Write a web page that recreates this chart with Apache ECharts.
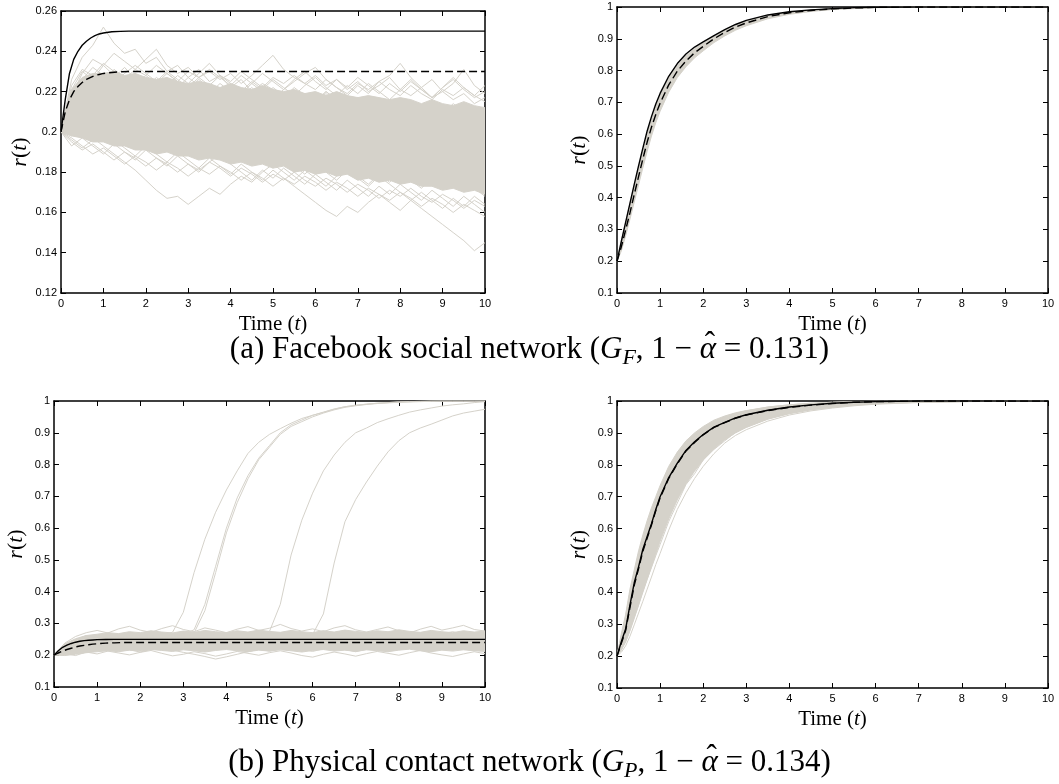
<!DOCTYPE html>
<html>
<head>
<meta charset="utf-8">
<script src="https://cdn.jsdelivr.net/npm/echarts@6/dist/echarts.min.js"></script>
<style>
  html, body { margin: 0; padding: 0; background: #fff; }
  #chart { width: 1059px; height: 784px; }
</style>
</head>
<body>
<div id="chart"></div>
<script>
// ---- time grids ----
const T = [0,0.25,0.5,0.75,1,1.25,1.5,1.75,2,2.25,2.5,2.75,3,3.25,3.5,3.75,4,4.25,4.5,4.75,5,5.25,5.5,5.75,6,6.25,6.5,6.75,7,7.25,7.5,7.75,8,8.25,8.5,8.75,9,9.25,9.5,9.75,10];
const TB = [0,0.1,0.2,0.3,0.4,0.5,0.6,0.7,0.8,0.9,1.0,1.2,1.4,1.6,1.8,2.0,2.25,2.5,2.75,3.0,3.5,4.0,4.5,5.0,5.5,6.0,7.0,8.0,9.0,10.0];

const xTicks = [0,1,2,3,4,5,6,7,8,9,10];

// ---- (a) Facebook, left panel ----
const fbLowSolid  = [0.200,0.216,0.229,0.236,0.240,0.243,0.245,0.2466,0.2478,0.2486,0.2491,0.2497,0.2499,0.250,0.250,0.250,0.250,0.250,0.250,0.250,0.250,0.250,0.250,0.250,0.250,0.250,0.250,0.250,0.250,0.250];
const fbLowDashed = [0.200,0.210,0.216,0.220,0.2225,0.2245,0.226,0.227,0.228,0.2285,0.229,0.2295,0.2298,0.230,0.230,0.230,0.230,0.230,0.230,0.230,0.230,0.230,0.230,0.230,0.230,0.230,0.230,0.230,0.230,0.230];
const fbLowCoreHi = [0.200,0.221,0.227,0.229,0.229,0.230,0.228,0.229,0.227,0.226,0.227,0.225,0.224,0.225,0.224,0.222,0.224,0.222,0.221,0.223,0.221,0.220,0.221,0.219,0.220,0.218,0.220,0.218,0.217,0.218,0.217,0.216,0.217,0.216,0.214,0.216,0.214,0.213,0.215,0.213,0.212];
const fbLowCoreLo = [0.200,0.198,0.197,0.195,0.195,0.193,0.193,0.191,0.191,0.189,0.190,0.188,0.188,0.186,0.187,0.186,0.184,0.185,0.183,0.184,0.182,0.183,0.180,0.181,0.179,0.180,0.178,0.179,0.176,0.177,0.175,0.176,0.174,0.175,0.173,0.173,0.171,0.172,0.170,0.171,0.169];
const fbLowRuns = [
  [0.200,0.226,0.237,0.243,0.252,0.244,0.239,0.241,0.234,0.237,0.230,0.233,0.227,0.231,0.225,0.228,0.222,0.226,0.220,0.224,0.221,0.217,0.222,0.218,0.215,0.220,0.216,0.213,0.217,0.212,0.214,0.210,0.213,0.208,0.211,0.206,0.209,0.205,0.207,0.203,0.206],
  [0.200,0.218,0.229,0.236,0.233,0.239,0.235,0.231,0.236,0.241,0.233,0.229,0.232,0.227,0.230,0.226,0.229,0.224,0.228,0.233,0.238,0.231,0.227,0.224,0.228,0.223,0.226,0.221,0.225,0.220,0.223,0.227,0.221,0.218,0.222,0.217,0.220,0.216,0.219,0.214,0.217],
  [0.200,0.214,0.222,0.228,0.225,0.231,0.227,0.223,0.228,0.224,0.229,0.225,0.221,0.226,0.222,0.218,0.223,0.219,0.224,0.220,0.216,0.221,0.225,0.229,0.232,0.226,0.222,0.218,0.223,0.219,0.225,0.228,0.234,0.227,0.222,0.226,0.220,0.224,0.231,0.223,0.219],
  [0.200,0.221,0.230,0.226,0.233,0.228,0.224,0.229,0.225,0.221,0.226,0.222,0.227,0.223,0.219,0.224,0.220,0.216,0.221,0.217,0.222,0.218,0.214,0.219,0.215,0.220,0.216,0.212,0.217,0.213,0.209,0.214,0.210,0.215,0.211,0.207,0.212,0.208,0.204,0.209,0.205],
  [0.200,0.212,0.219,0.225,0.221,0.227,0.232,0.226,0.222,0.227,0.223,0.228,0.224,0.229,0.234,0.228,0.224,0.220,0.225,0.221,0.226,0.222,0.218,0.223,0.227,0.222,0.218,0.223,0.219,0.224,0.220,0.216,0.221,0.226,0.221,0.217,0.222,0.227,0.222,0.218,0.223],
  [0.200,0.208,0.215,0.211,0.218,0.214,0.210,0.216,0.212,0.208,0.213,0.209,0.214,0.210,0.206,0.211,0.207,0.212,0.208,0.204,0.209,0.205,0.210,0.206,0.202,0.207,0.203,0.208,0.204,0.200,0.205,0.201,0.197,0.202,0.198,0.203,0.199,0.195,0.200,0.196,0.192],
  [0.200,0.205,0.211,0.217,0.213,0.219,0.215,0.220,0.216,0.212,0.217,0.213,0.209,0.214,0.218,0.213,0.209,0.205,0.210,0.206,0.211,0.215,0.210,0.206,0.202,0.207,0.211,0.206,0.202,0.198,0.203,0.199,0.204,0.200,0.196,0.201,0.197,0.193,0.198,0.194,0.190],
  [0.200,0.203,0.207,0.203,0.209,0.205,0.201,0.206,0.202,0.198,0.203,0.199,0.204,0.200,0.196,0.201,0.197,0.202,0.198,0.194,0.199,0.195,0.191,0.196,0.192,0.197,0.193,0.189,0.194,0.190,0.186,0.191,0.187,0.192,0.188,0.184,0.189,0.185,0.181,0.186,0.182],
  [0.200,0.210,0.206,0.212,0.208,0.204,0.209,0.205,0.201,0.206,0.210,0.205,0.201,0.197,0.202,0.206,0.211,0.207,0.203,0.208,0.204,0.200,0.205,0.201,0.197,0.202,0.198,0.194,0.199,0.203,0.199,0.195,0.191,0.196,0.200,0.196,0.192,0.188,0.193,0.189,0.185],
  [0.200,0.216,0.222,0.218,0.214,0.219,0.215,0.211,0.216,0.220,0.215,0.211,0.207,0.212,0.208,0.213,0.209,0.214,0.210,0.215,0.211,0.207,0.203,0.208,0.212,0.207,0.203,0.208,0.204,0.209,0.205,0.210,0.206,0.202,0.207,0.203,0.199,0.204,0.200,0.205,0.201],
  [0.200,0.198,0.202,0.197,0.193,0.189,0.185,0.181,0.176,0.171,0.167,0.168,0.164,0.168,0.172,0.169,0.174,0.178,0.175,0.180,0.184,0.180,0.176,0.181,0.177,0.173,0.178,0.182,0.178,0.174,0.179,0.175,0.180,0.176,0.172,0.177,0.181,0.177,0.173,0.178,0.174],
  [0.200,0.196,0.192,0.196,0.200,0.196,0.192,0.188,0.193,0.189,0.185,0.190,0.186,0.182,0.187,0.183,0.179,0.184,0.180,0.176,0.181,0.177,0.173,0.169,0.165,0.161,0.158,0.163,0.160,0.165,0.169,0.165,0.161,0.166,0.170,0.166,0.162,0.167,0.163,0.168,0.164],
  [0.200,0.204,0.200,0.205,0.201,0.197,0.202,0.198,0.194,0.199,0.195,0.191,0.196,0.192,0.188,0.193,0.189,0.185,0.190,0.186,0.182,0.187,0.183,0.179,0.184,0.180,0.176,0.181,0.177,0.173,0.178,0.174,0.170,0.166,0.162,0.158,0.154,0.150,0.146,0.141,0.145],
  [0.200,0.193,0.197,0.193,0.189,0.194,0.190,0.186,0.191,0.187,0.183,0.188,0.184,0.180,0.185,0.189,0.184,0.180,0.176,0.181,0.177,0.182,0.178,0.174,0.179,0.175,0.171,0.176,0.172,0.168,0.173,0.169,0.174,0.170,0.166,0.171,0.167,0.163,0.168,0.164,0.160],
  [0.200,0.207,0.203,0.199,0.204,0.200,0.205,0.201,0.197,0.202,0.198,0.203,0.199,0.195,0.200,0.196,0.192,0.197,0.193,0.198,0.194,0.190,0.195,0.191,0.187,0.192,0.188,0.193,0.189,0.185,0.190,0.186,0.182,0.187,0.183,0.179,0.184,0.180,0.176,0.172,0.168],
  [0.200,0.211,0.217,0.213,0.209,0.214,0.210,0.206,0.211,0.207,0.212,0.217,0.221,0.216,0.212,0.217,0.213,0.218,0.222,0.217,0.213,0.209,0.214,0.210,0.215,0.219,0.214,0.210,0.215,0.211,0.207,0.212,0.216,0.212,0.208,0.213,0.209,0.214,0.210,0.206,0.211],
  [0.200,0.223,0.231,0.228,0.234,0.230,0.226,0.231,0.228,0.233,0.229,0.225,0.230,0.227,0.223,0.228,0.225,0.230,0.226,0.222,0.227,0.224,0.228,0.224,0.221,0.226,0.222,0.219,0.224,0.221,0.225,0.221,0.218,0.223,0.219,0.216,0.221,0.218,0.222,0.218,0.215],
  [0.200,0.195,0.191,0.194,0.190,0.186,0.190,0.187,0.183,0.187,0.184,0.180,0.184,0.181,0.185,0.182,0.178,0.182,0.179,0.175,0.179,0.176,0.180,0.176,0.173,0.177,0.174,0.170,0.174,0.171,0.167,0.171,0.168,0.172,0.168,0.165,0.169,0.166,0.162,0.166,0.163],
  [0.200,0.219,0.226,0.232,0.228,0.224,0.229,0.233,0.229,0.225,0.230,0.226,0.222,0.227,0.231,0.227,0.223,0.228,0.224,0.229,0.225,0.221,0.226,0.230,0.225,0.221,0.226,0.222,0.227,0.223,0.219,0.224,0.220,0.225,0.221,0.217,0.222,0.226,0.221,0.217,0.220],
  [0.200,0.197,0.193,0.189,0.192,0.188,0.184,0.188,0.185,0.181,0.185,0.182,0.178,0.182,0.179,0.183,0.180,0.176,0.180,0.177,0.173,0.177,0.174,0.178,0.175,0.171,0.175,0.172,0.168,0.172,0.169,0.166,0.170,0.167,0.163,0.167,0.164,0.160,0.164,0.161,0.158]
];

// ---- (a) Facebook, right panel ----
const fbHighSolid  = [0.200,0.262,0.322,0.382,0.442,0.500,0.556,0.610,0.655,0.695,0.728,0.782,0.822,0.852,0.874,0.890,0.910,0.929,0.945,0.958,0.975,0.985,0.991,0.995,0.998,0.999,1.000,1.000,1.000,1.000];
const fbHighDashed = [0.200,0.245,0.298,0.352,0.410,0.466,0.522,0.575,0.622,0.662,0.697,0.755,0.798,0.830,0.856,0.876,0.900,0.920,0.937,0.950,0.970,0.982,0.989,0.994,0.997,0.999,1.000,1.000,1.000,1.000];
const fbHighCoreHi = [0.200,0.262,0.322,0.380,0.438,0.495,0.550,0.602,0.647,0.687,0.720,0.775,0.816,0.846,0.869,0.886,0.908,0.927,0.943,0.956,0.974,0.984,0.990,0.994,0.997,0.999,1.000,1.000,1.000,1.000];
const fbHighCoreLo = [0.200,0.232,0.280,0.332,0.386,0.440,0.494,0.546,0.594,0.636,0.672,0.732,0.778,0.812,0.840,0.862,0.888,0.909,0.927,0.941,0.963,0.977,0.986,0.992,0.995,0.998,0.999,1.000,1.000,1.000];
const fbHighRuns = [
  [0.200,0.238,0.287,0.340,0.396,0.452,0.506,0.558,0.606,0.648,0.684,0.742,0.787,0.820,0.846,0.868,0.893,0.913,0.931,0.945,0.966,0.979,0.987,0.993,0.996,0.998,1.000,1.000,1.000,1.000],
  [0.200,0.258,0.316,0.374,0.432,0.490,0.545,0.598,0.644,0.684,0.717,0.772,0.813,0.844,0.867,0.885,0.907,0.926,0.942,0.955,0.973,0.984,0.990,0.994,0.997,0.999,1.000,1.000,1.000,1.000]
];

// ---- (b) Physical contact, left panel ----
const pcLowSolid  = [0.200,0.214,0.225,0.232,0.237,0.241,0.244,0.246,0.247,0.248,0.249,0.2495,0.250,0.250,0.250,0.250,0.250,0.250,0.250,0.250,0.250,0.250,0.250,0.250,0.250,0.250,0.250,0.250,0.250,0.250];
const pcLowDashed = [0.200,0.207,0.213,0.218,0.222,0.226,0.229,0.231,0.233,0.235,0.236,0.238,0.239,0.240,0.240,0.240,0.240,0.240,0.240,0.240,0.240,0.240,0.240,0.240,0.240,0.240,0.240,0.240,0.240,0.240];
const pcLowCoreHi = [0.200,0.236,0.252,0.262,0.266,0.271,0.268,0.274,0.271,0.277,0.273,0.270,0.276,0.272,0.278,0.274,0.271,0.277,0.273,0.279,0.275,0.272,0.278,0.274,0.271,0.277,0.273,0.279,0.275,0.272,0.277,0.274,0.280,0.275,0.272,0.278,0.274,0.271,0.277,0.273,0.276];
const pcLowCoreLo = [0.200,0.199,0.203,0.208,0.211,0.214,0.211,0.216,0.213,0.218,0.215,0.212,0.217,0.214,0.210,0.215,0.218,0.214,0.211,0.216,0.213,0.217,0.214,0.210,0.215,0.218,0.213,0.216,0.212,0.217,0.214,0.211,0.216,0.219,0.214,0.211,0.216,0.213,0.217,0.214,0.212];
const pcLowRuns = [
  [0.200,0.226,0.241,0.252,0.247,0.258,0.263,0.255,0.261,0.268,0.259,0.266,0.272,0.264,0.257,0.265,0.271,0.262,0.256,0.263,0.269,0.261,0.255,0.262,0.270,0.276,0.266,0.259,0.265,0.272,0.264,0.258,0.266,0.273,0.265,0.259,0.267,0.274,0.266,0.260,0.268],
  [0.200,0.238,0.259,0.271,0.278,0.270,0.283,0.291,0.279,0.272,0.284,0.293,0.281,0.274,0.286,0.279,0.271,0.282,0.290,0.278,0.285,0.297,0.284,0.276,0.283,0.274,0.286,0.293,0.280,0.273,0.281,0.289,0.277,0.270,0.282,0.291,0.279,0.286,0.294,0.281,0.276],
  [0.200,0.205,0.199,0.210,0.204,0.213,0.207,0.201,0.209,0.215,0.206,0.198,0.203,0.211,0.205,0.197,0.204,0.212,0.206,0.200,0.208,0.214,0.207,0.199,0.194,0.203,0.210,0.204,0.197,0.205,0.212,0.206,0.200,0.208,0.215,0.207,0.201,0.196,0.204,0.211,0.205],
  [0.200,0.218,0.232,0.226,0.238,0.244,0.236,0.229,0.237,0.245,0.239,0.231,0.240,0.247,0.238,0.232,0.241,0.249,0.242,0.235,0.243,0.236,0.229,0.238,0.246,0.239,0.233,0.242,0.250,0.241,0.234,0.243,0.237,0.230,0.239,0.247,0.240,0.233,0.241,0.248,0.242],
  [0.200,0.209,0.216,0.211,0.220,0.214,0.222,0.217,0.210,0.218,0.224,0.216,0.209,0.203,0.196,0.188,0.195,0.203,0.211,0.219,0.213,0.221,0.227,0.219,0.212,0.220,0.226,0.218,0.211,0.219,0.225,0.217,0.223,0.229,0.221,0.214,0.222,0.228,0.220,0.214,0.221],
  [0.200,0.231,0.249,0.262,0.255,0.264,0.257,0.249,0.256,0.263,0.254,0.248,0.257,0.250,0.258,0.265,0.256,0.249,0.255,0.262,0.253,0.260,0.252,0.246,0.254,0.261,0.253,0.259,0.267,0.258,0.251,0.257,0.264,0.255,0.249,0.256,0.262,0.254,0.260,0.253,0.258],
  // runs that break out of the endemic level
  [0.200,0.224,0.238,0.246,0.253,0.247,0.256,0.262,0.254,0.259,0.266,0.272,0.335,0.460,0.565,0.650,0.720,0.780,0.835,0.870,0.895,0.913,0.930,0.945,0.955,0.964,0.974,0.982,0.986,0.990,0.993,0.995,0.997,0.998,0.999,1.000,1.000,1.000,1.000,1.000,1.000],
  [0.200,0.229,0.243,0.251,0.258,0.252,0.261,0.255,0.263,0.257,0.250,0.259,0.266,0.280,0.360,0.480,0.600,0.695,0.765,0.820,0.860,0.900,0.925,0.940,0.955,0.965,0.975,0.982,0.987,0.990,0.993,0.995,0.997,0.998,0.999,1.000,1.000,1.000,1.000,1.000,1.000],
  [0.200,0.221,0.236,0.244,0.239,0.248,0.255,0.249,0.257,0.251,0.258,0.264,0.257,0.270,0.340,0.460,0.585,0.680,0.755,0.815,0.855,0.895,0.920,0.935,0.950,0.962,0.972,0.980,0.985,0.989,0.992,0.994,0.996,0.997,0.998,0.999,1.000,1.000,1.000,1.000,1.000],
  [0.200,0.227,0.241,0.236,0.247,0.254,0.246,0.253,0.260,0.252,0.245,0.254,0.261,0.253,0.259,0.266,0.257,0.250,0.258,0.265,0.275,0.360,0.515,0.625,0.710,0.780,0.830,0.870,0.900,0.915,0.932,0.944,0.955,0.965,0.972,0.978,0.984,0.988,0.991,0.995,0.998],
  [0.200,0.219,0.233,0.245,0.239,0.250,0.257,0.249,0.243,0.252,0.259,0.251,0.246,0.255,0.262,0.254,0.248,0.256,0.263,0.255,0.249,0.258,0.265,0.257,0.265,0.330,0.490,0.620,0.690,0.745,0.795,0.840,0.875,0.900,0.915,0.927,0.940,0.953,0.962,0.968,0.974]
];

// ---- (b) Physical contact, right panel ----
const pcHighSolid  = [0.200,0.245,0.285,0.360,0.430,0.480,0.535,0.575,0.615,0.660,0.700,0.760,0.805,0.845,0.872,0.895,0.918,0.933,0.947,0.957,0.971,0.981,0.988,0.993,0.996,0.998,1.000,1.000,1.000,1.000];
const pcHighDashed = [0.200,0.240,0.280,0.352,0.422,0.474,0.529,0.570,0.611,0.656,0.696,0.757,0.803,0.843,0.870,0.894,0.917,0.932,0.946,0.956,0.970,0.980,0.987,0.992,0.996,0.998,1.000,1.000,1.000,1.000];
const pcHighCoreHi = [0.200,0.270,0.330,0.410,0.470,0.530,0.580,0.625,0.665,0.700,0.735,0.795,0.840,0.875,0.900,0.920,0.940,0.953,0.963,0.970,0.981,0.988,0.993,0.996,0.998,0.999,1.000,1.000,1.000,1.000];
const pcHighCoreLo = [0.200,0.220,0.245,0.280,0.320,0.360,0.400,0.440,0.480,0.520,0.560,0.630,0.690,0.740,0.780,0.815,0.850,0.878,0.900,0.917,0.943,0.960,0.972,0.980,0.987,0.991,0.996,0.998,0.999,1.000];
const pcHighRuns = [
  [0.200,0.212,0.232,0.262,0.298,0.335,0.372,0.410,0.448,0.487,0.522,0.595,0.660,0.712,0.757,0.795,0.835,0.868,0.892,0.910,0.937,0.956,0.969,0.978,0.985,0.990,0.995,0.998,0.999,1.000],
  [0.200,0.218,0.245,0.280,0.320,0.360,0.405,0.442,0.478,0.515,0.550,0.622,0.680,0.738,0.772,0.815,0.848,0.875,0.902,0.918,0.944,0.962,0.974,0.982,0.988,0.992,0.996,0.998,1.000,1.000],
  [0.200,0.262,0.325,0.400,0.462,0.520,0.570,0.615,0.655,0.690,0.725,0.785,0.832,0.868,0.893,0.915,0.936,0.950,0.961,0.969,0.981,0.988,0.993,0.996,0.998,0.999,1.000,1.000,1.000,1.000]
];

// ---- axis ranges [min, max, step] ----
const yRanges = [[0.12, 0.26, 0.02], [0.1, 1, 0.1], [0.1, 1, 0.1], [0.1, 1, 0.1]];

const GRAY = '#d5d2ca';
const INK = '#000';
const SERIF = '"Liberation Serif", "DejaVu Serif", serif';
const SANS = '"Liberation Sans", Arial, sans-serif';

const grids = [
  { left: 61,  top: 11,  width: 424, height: 282 },
  { left: 617, top: 7,   width: 431, height: 286 },
  { left: 54,  top: 401, width: 431, height: 286 },
  { left: 617, top: 401, width: 431, height: 287 }
];

const xNameRich = {
  n: { fontFamily: SERIF, fontSize: 21, color: INK, lineHeight: 24 },
  i: { fontFamily: SERIF, fontSize: 21, fontStyle: 'italic', color: INK, lineHeight: 24 }
};
const yNameRich = {
  n: { fontFamily: SERIF, fontSize: 22, color: INK, lineHeight: 24 },
  i: { fontFamily: SERIF, fontSize: 22, fontStyle: 'italic', color: INK, lineHeight: 24 }
};

const xAxes = [], yAxes = [];
grids.forEach((g, k) => {
  const line = { show: true, onZero: false, lineStyle: { color: INK, width: 1.5 } };
  const tick = { show: true, inside: true, length: 5, lineStyle: { color: INK, width: 1 } };
  xAxes.push({
    gridIndex: k, type: 'value', position: 'bottom', min: xTicks[0], max: xTicks[xTicks.length - 1], interval: 1,
    axisLine: line, axisTick: tick, splitLine: { show: false },
    axisLabel: { fontFamily: SANS, fontSize: 11, color: INK, margin: 5 },
    name: '{n|Time (}{i|t}{n|)}', nameLocation: 'middle', nameGap: 19,
    nameTextStyle: { rich: xNameRich }
  });
  xAxes.push({
    gridIndex: k, type: 'value', position: 'top', min: xTicks[0], max: xTicks[xTicks.length - 1], interval: 1,
    axisLine: line, axisTick: tick, splitLine: { show: false }, axisLabel: { show: false }
  });
  const [lo, hi, step] = yRanges[k];
  yAxes.push({
    gridIndex: k, type: 'value', position: 'left', min: lo, max: hi, interval: step,
    axisLine: line, axisTick: tick, splitLine: { show: false },
    axisLabel: { fontFamily: SANS, fontSize: 11, color: INK, margin: 4 },
    name: '{i|r}{n|(}{i|t}{n|)}', nameLocation: 'middle', nameRotate: 90, nameGap: k === 0 ? 28 : 26,
    nameTextStyle: { rich: yNameRich }
  });
  yAxes.push({
    gridIndex: k, type: 'value', position: 'right', min: lo, max: hi, interval: step,
    axisLine: line, axisTick: tick, splitLine: { show: false }, axisLabel: { show: false }
  });
});

function pairs(t, v) { return v.map((y, i) => [t[i], y]); }

// filled envelope of the dense bundle of simulation runs
function bundle(k, t, lo, hi) {
  return {
    type: 'custom', xAxisIndex: 2 * k, yAxisIndex: 2 * k, silent: true, z: 1, clip: true,
    data: [[t[0], lo[0]]],
    renderItem: function (params, api) {
      const pts = [];
      for (let i = 0; i < t.length; i++) pts.push(api.coord([t[i], hi[i]]));
      for (let i = t.length - 1; i >= 0; i--) pts.push(api.coord([t[i], lo[i]]));
      return { type: 'polygon', shape: { points: pts }, style: { fill: GRAY, stroke: GRAY, lineWidth: 1 } };
    }
  };
}

function run(k, t, v) {
  return {
    type: 'line', xAxisIndex: 2 * k, yAxisIndex: 2 * k, data: pairs(t, v), z: 2,
    symbol: 'none', silent: true, clip: true,
    lineStyle: { color: GRAY, width: 1 }
  };
}

function model(k, t, v, dashed) {
  return {
    type: 'line', xAxisIndex: 2 * k, yAxisIndex: 2 * k, data: pairs(t, v), z: 3,
    symbol: 'none', silent: true, clip: true,
    lineStyle: { color: INK, width: 1.4, type: dashed ? [8, 4] : 'solid' }
  };
}

const series = [];
const panels = [
  { t: T,  runs: fbLowRuns,  lo: fbLowCoreLo,  hi: fbLowCoreHi,  solid: fbLowSolid,  dashed: fbLowDashed },
  { t: TB, runs: fbHighRuns, lo: fbHighCoreLo, hi: fbHighCoreHi, solid: fbHighSolid, dashed: fbHighDashed },
  { t: T,  runs: pcLowRuns,  lo: pcLowCoreLo,  hi: pcLowCoreHi,  solid: pcLowSolid,  dashed: pcLowDashed },
  { t: TB, runs: pcHighRuns, lo: pcHighCoreLo, hi: pcHighCoreHi, solid: pcHighSolid, dashed: pcHighDashed }
];
panels.forEach((p, k) => {
  series.push(bundle(k, p.t, p.lo, p.hi));
  p.runs.forEach(r => series.push(run(k, p.t, r)));
  series.push(model(k, TB, p.dashed, true));
  series.push(model(k, TB, p.solid, false));
});

// ---- sub-figure captions, laid out piece by piece ----
const CAP = 31;
function caption(pieces, cx, cy) {
  const ctx = document.createElement('canvas').getContext('2d');
  const font = p => (p.italic ? 'italic ' : '') + p.size + 'px ' + SERIF;
  const widths = pieces.map(p => { ctx.font = font(p); return ctx.measureText(p.text).width; });
  const total = pieces.reduce((s, p, i) => s + (p.over ? 0 : widths[i]), 0);
  let x = cx - total / 2;
  let prevX = x, prevW = 0;
  const out = [];
  pieces.forEach((p, i) => {
    const base = { fontSize: p.size, fontFamily: SERIF, fontStyle: p.italic ? 'italic' : 'normal', fill: INK, verticalAlign: 'middle' };
    if (p.over) {
      out.push({ type: 'text', x: prevX + prevW / 2 + (p.dx || 0), y: cy + (p.dy || 0), silent: true,
        style: Object.assign({ text: p.text, align: 'center' }, base) });
    } else {
      out.push({ type: 'text', x: x, y: cy + (p.dy || 0), silent: true,
        style: Object.assign({ text: p.text, align: 'left' }, base) });
      prevX = x; prevW = widths[i];
      x += widths[i];
    }
  });
  return out;
}
function captionPieces(label, sub, value) {
  return [
    { text: label + ' (', size: CAP },
    { text: 'G', size: CAP, italic: true },
    { text: sub, size: Math.round(CAP * 0.7), italic: true, dy: 8 },
    { text: ', 1 − ', size: CAP },
    { text: 'α', size: CAP, italic: true },
    { text: 'ˆ', size: CAP, over: true, dx: 2, dy: -5 },
    { text: ' = ' + value + ')', size: CAP }
  ];
}

const option = {
  animation: false,
  backgroundColor: '#fff',
  grid: grids,
  xAxis: xAxes,
  yAxis: yAxes,
  series: series,
  graphic: [].concat(
    caption(captionPieces('(a) Facebook social network', 'F', '0.131'), 529.5, 350),
    caption(captionPieces('(b) Physical contact network', 'P', '0.134'), 529.5, 763)
  )
};

const chart = echarts.init(document.getElementById('chart'), null, { renderer: 'canvas' });
chart.setOption(option);
</script>
</body>
</html>
